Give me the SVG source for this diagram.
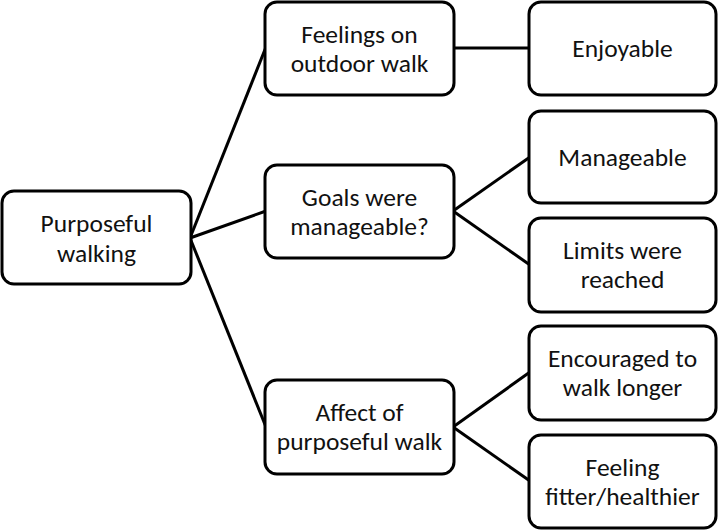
<svg xmlns="http://www.w3.org/2000/svg" width="719" height="530" viewBox="0 0 719 530">
<style>
.box{fill:#fff;stroke:#000;stroke-width:3}
.t{font-family:Carlito,Lato,"Open Sans",sans-serif;font-size:25.5px;fill:#111;text-anchor:middle}
.c{stroke:#000;stroke-width:3;fill:none}
</style>
<rect width="719" height="530" fill="#fff"/>
<g id="connectors">
<line class="c" x1="190" y1="238" x2="266" y2="47"/>
<line class="c" x1="190" y1="238" x2="266" y2="211"/>
<line class="c" x1="190" y1="238" x2="266" y2="427"/>
<line class="c" x1="453" y1="48" x2="530" y2="48"/>
<line class="c" x1="453" y1="211" x2="530" y2="157"/>
<line class="c" x1="453" y1="211" x2="530" y2="265"/>
<line class="c" x1="453" y1="427" x2="530" y2="372"/>
<line class="c" x1="453" y1="427" x2="530" y2="481"/>
</g>
<g id="root"><rect class="box" x="2" y="191" width="189" height="93" rx="12"/>
<text class="t" x="96.5" y="232">Purposeful</text><text class="t" x="96.5" y="262">walking</text></g>
<g id="feelings"><rect class="box" x="265" y="2" width="189" height="93" rx="12"/>
<text class="t" x="359.5" y="43">Feelings on</text><text class="t" x="359.5" y="72">outdoor walk</text></g>
<g id="enjoyable"><rect class="box" x="529" y="2" width="187" height="93" rx="12"/>
<text class="t" x="622.5" y="57">Enjoyable</text></g>
<g id="goals"><rect class="box" x="265" y="165" width="189" height="93" rx="12"/>
<text class="t" x="359.5" y="206">Goals were</text><text class="t" x="359.5" y="235">manageable?</text></g>
<g id="manageable"><rect class="box" x="529" y="111" width="187" height="92" rx="12"/>
<text class="t" x="622.5" y="166">Manageable</text></g>
<g id="limits"><rect class="box" x="529" y="218" width="187" height="94" rx="12"/>
<text class="t" x="622.5" y="259">Limits were</text><text class="t" x="622.5" y="288">reached</text></g>
<g id="affect"><rect class="box" x="265" y="380" width="189" height="94" rx="12"/>
<text class="t" x="359.5" y="421">Affect of</text><text class="t" x="359.5" y="450">purposeful walk</text></g>
<g id="encouraged"><rect class="box" x="529" y="326" width="187" height="94" rx="12"/>
<text class="t" x="622.5" y="367">Encouraged to</text><text class="t" x="622.5" y="396">walk longer</text></g>
<g id="feeling"><rect class="box" x="529" y="435" width="187" height="93" rx="12"/>
<text class="t" x="622.5" y="476">Feeling</text><text class="t" x="622.5" y="505">fitter/healthier</text></g>
</svg>
